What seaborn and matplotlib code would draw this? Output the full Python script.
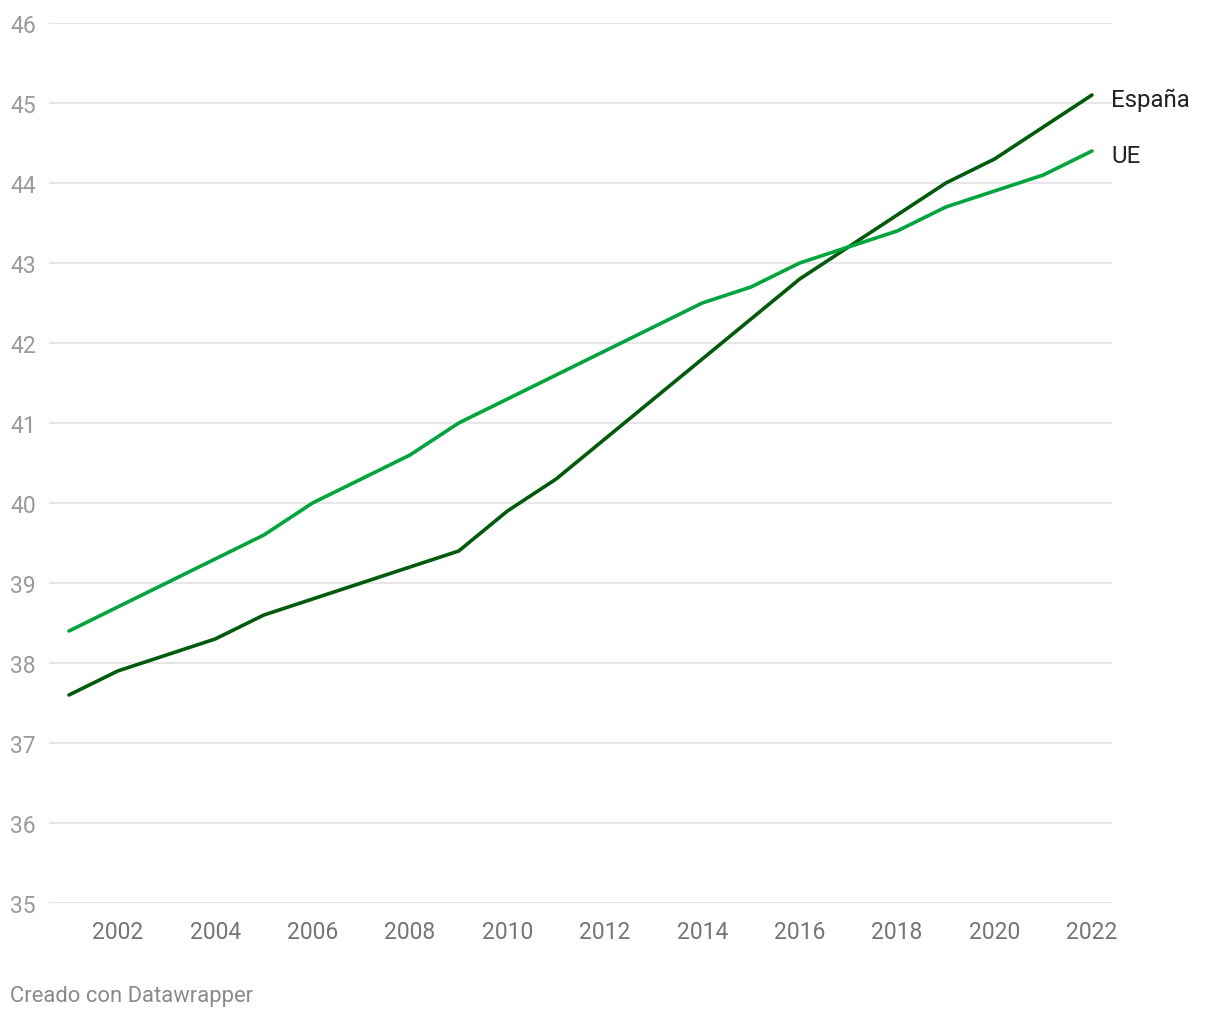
import numpy as np
import pandas as pd
import matplotlib
matplotlib.use("Agg")
import matplotlib.pyplot as plt
import seaborn as sns

years = list(range(2001, 2023))
espana = [37.6, 37.9, 38.1, 38.3, 38.6, 38.8, 39.0, 39.2, 39.4, 39.9, 40.3,
          40.8, 41.3, 41.8, 42.3, 42.8, 43.2, 43.6, 44.0, 44.3, 44.7, 45.1]
ue = [38.4, 38.7, 39.0, 39.3, 39.6, 40.0, 40.3, 40.6, 41.0, 41.3, 41.6,
      41.9, 42.2, 42.5, 42.7, 43.0, 43.2, 43.4, 43.7, 43.9, 44.1, 44.4]
series_names = ["España", "UE"]
series_colors = ["#005c0a", "#00a63c"]
y_ticks = list(range(35, 47))
x_ticks = list(range(2002, 2023, 2))

df = pd.DataFrame({
    "year": years * 2,
    "value": espana + ue,
    "serie": [series_names[0]] * len(years) + [series_names[1]] * len(years),
})

sns.set_theme(style="white")
plt.rcParams["font.family"] = ["Roboto", "DejaVu Sans"]

fig = plt.figure(figsize=(12.2, 10.2), dpi=100)
ax = fig.add_axes([49 / 1220, 116 / 1020, (1112 - 49) / 1220, (904 - 24) / 1020])

sns.lineplot(data=df, x="year", y="value", hue="serie", hue_order=series_names,
             palette=series_colors, linewidth=2.6, legend=False, ax=ax)

ax.set_ylim(35, 46)
ax.set_xlim(2001 - 20 / 48.7, 2022 + 20 / 48.7)
ax.set_yticks(y_ticks)
ax.set_yticklabels([str(t) for t in y_ticks])
ax.set_xticks(x_ticks)
ax.set_xticklabels([str(t) for t in x_ticks])
ax.grid(axis="y", color="#e2e2e2", linewidth=1.2)
ax.grid(axis="x", visible=False)
ax.set_axisbelow(True)
for s in ax.spines.values():
    s.set_visible(False)
ax.set_xlabel("")
ax.set_ylabel("")
ax.tick_params(axis="y", length=0, pad=28, labelsize=16.5, labelcolor="#9a9a9a")
for lab in ax.get_yticklabels():
    lab.set_horizontalalignment("left")
ax.tick_params(axis="x", length=0, pad=12, labelsize=16.5, labelcolor="#757575")

ax.annotate(series_names[0], xy=(years[-1], espana[-1]), xytext=(14, -3),
            textcoords="offset points", va="center", ha="left",
            fontsize=17.3, color="#222222", annotation_clip=False)
ax.annotate(series_names[1], xy=(years[-1], ue[-1]), xytext=(14, -3),
            textcoords="offset points", va="center", ha="left",
            fontsize=17.3, color="#222222", annotation_clip=False)

fig.text(10 / 1220, 1 - 997 / 1020, "Creado con Datawrapper", fontsize=15.8,
         color="#8a8a8a", ha="left", va="center")

fig.savefig("out.png", dpi=100, facecolor="white")
